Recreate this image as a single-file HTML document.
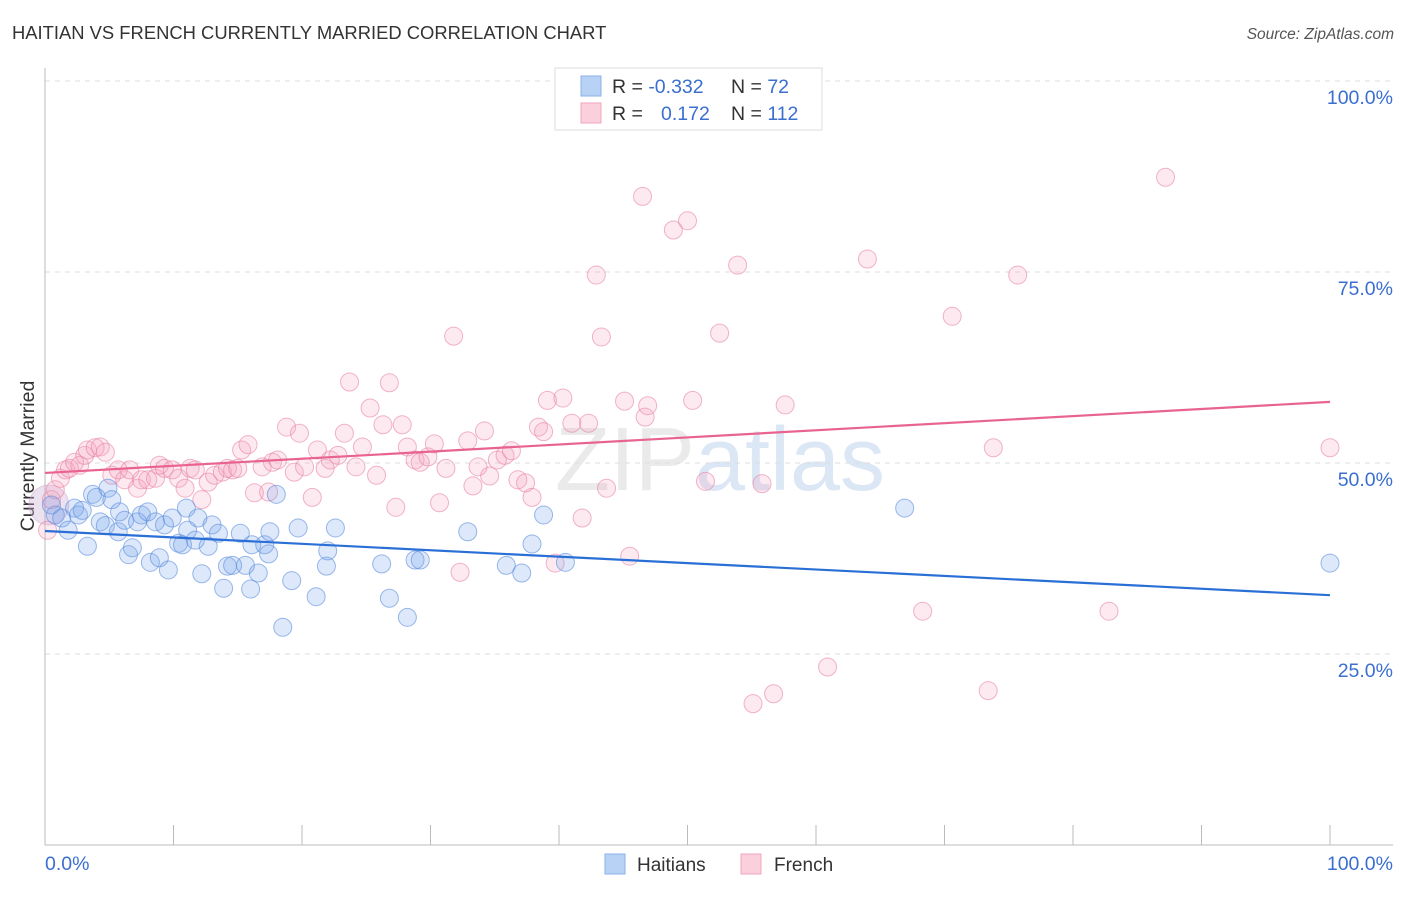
<!DOCTYPE html>
<html><head><meta charset="utf-8"><style>
body{margin:0;background:#fff;font-family:"Liberation Sans",sans-serif}
svg text{font-family:"Liberation Sans",sans-serif}
</style></head><body>
<svg id="chart" width="1406" height="892" viewBox="0 0 1406 892">
<text x="12" y="39" font-size="18.4" fill="#333">HAITIAN VS FRENCH CURRENTLY MARRIED CORRELATION CHART</text>
<text x="1394" y="39" font-size="15.5" fill="#555" font-style="italic" text-anchor="end">Source: ZipAtlas.com</text>
<text x="34" y="456" font-size="19.5" fill="#333" text-anchor="middle" transform="rotate(-90 34 456)">Currently Married</text>
<text x="720" y="490" font-size="90" fill="#ddd" text-anchor="middle" opacity="0.6" font-family="Liberation Serif">ZIP<tspan fill="#c5d8ef" font-family="Liberation Sans">atlas</tspan></text>
<g id="grid"></g>
<g id="axes"></g>
<g id="pts"></g>
<g id="trends"></g>
<g>
<rect x="555" y="68" width="267" height="62" fill="#fff" stroke="#ddd"/>
<rect x="581" y="76" width="20" height="20" fill="#b8d2f5" stroke="#8ab0e8"/>
<rect x="581" y="103" width="20" height="20" fill="#fbd0dc" stroke="#f0a5bc"/>
<text x="612" y="93" font-size="19.5" fill="#333">R = <tspan fill="#3a6fd0">-0.332</tspan></text>
<text x="731" y="93" font-size="19.5" fill="#333">N = <tspan fill="#3a6fd0"> 72</tspan></text>
<text x="612" y="120" font-size="19.5" fill="#333">R = <tspan fill="#3a6fd0" x="661">0.172</tspan></text>
<text x="731" y="120" font-size="19.5" fill="#333">N = <tspan fill="#3a6fd0">112</tspan></text>
</g>
<g>
<rect x="605" y="854" width="20" height="20" fill="#b8d2f5" stroke="#8ab0e8"/>
<text x="637" y="871" font-size="19" fill="#333">Haitians</text>
<rect x="741" y="854" width="20" height="20" fill="#fbd0dc" stroke="#f0a5bc"/>
<text x="774" y="871" font-size="19" fill="#333">French</text>
</g>
</svg>
<script>
const yTicks=[25,50,75,100];
const yTickLabels=["25.0%","50.0%","75.0%","100.0%"];
const xTicks=[10,20,30,40,50,60,70,80,90,100];
const haitiansX=[0.5,0.8,1.3,1.8,2.3,2.6,2.9,3.3,3.7,4.0,4.3,4.7,4.9,5.2,5.7,5.8,6.2,6.5,6.8,7.2,7.5,8.0,8.2,8.6,8.9,9.3,9.6,9.9,10.4,10.7,11.0,11.1,11.7,11.9,12.2,12.7,13.0,13.5,13.9,14.2,14.6,15.2,15.6,16.0,16.1,16.6,17.1,17.4,17.5,18.0,18.5,19.2,19.7,21.1,21.9,22.0,22.6,26.2,26.8,28.2,28.8,29.2,32.9,35.9,37.1,37.9,38.8,40.5,66.9,100];
const haitiansY=[44.5,43.2,42.8,41.2,44.1,43.2,43.8,39.1,45.9,45.5,42.3,41.8,46.7,45.2,41.0,43.6,42.5,38.0,38.9,42.3,43.2,43.6,37.0,42.3,37.6,41.9,36.0,42.8,39.5,39.3,44.1,41.2,39.9,42.8,35.5,39.1,41.9,40.8,33.6,36.5,36.6,40.8,36.6,33.5,39.3,35.6,39.3,38.1,41.0,45.9,28.5,34.6,41.5,32.5,36.5,38.5,41.5,36.8,32.3,29.8,37.3,37.3,41.0,36.6,35.6,39.4,43.2,37.0,44.1,36.9];
const frenchX=[0.2,0.5,0.8,1.2,1.6,1.9,2.3,2.7,3.1,3.3,3.9,4.3,4.7,5.2,5.7,6.2,6.6,7.2,7.5,8.0,8.6,8.9,9.3,9.9,10.4,10.9,11.3,11.7,12.2,12.7,13.2,13.8,14.2,14.6,15.0,15.3,15.8,16.3,16.9,17.4,17.7,18.1,18.8,19.4,19.8,20.2,20.8,21.2,21.8,22.2,22.8,23.3,23.7,24.2,24.7,25.3,25.8,26.3,26.8,27.3,27.8,28.2,28.8,29.2,29.8,30.3,30.7,31.2,31.8,32.3,32.9,33.3,33.7,34.2,34.6,35.2,35.8,36.3,36.8,37.4,37.9,38.4,38.8,39.1,39.7,40.3,41.0,41.8,42.3,42.9,43.3,43.7,45.1,45.5,46.5,46.7,46.9,48.9,50.0,50.4,51.4,52.5,53.9,55.1,55.8,56.7,57.6,60.9,64.0,68.3,70.6,73.4,73.8,75.7,82.8,87.2,100];
const frenchY=[41.2,45.2,46.5,48.0,49.1,49.3,50.1,49.7,51.0,51.7,52.0,52.1,51.4,48.4,49.1,47.8,49.1,46.7,47.8,47.8,48.0,49.7,49.3,49.1,48.0,46.7,49.3,49.1,45.2,47.5,48.4,48.8,49.3,49.1,49.3,51.7,52.4,46.1,49.5,46.2,50.1,50.4,54.7,48.8,53.9,49.5,45.5,51.7,49.3,50.4,51.0,53.9,60.6,49.5,52.1,57.2,48.4,55.0,60.5,44.2,55.0,52.1,50.4,50.1,50.8,52.5,44.8,49.3,66.6,35.7,52.9,47.0,49.5,54.2,48.3,50.4,51.0,51.6,47.8,47.4,45.5,54.7,54.1,58.2,36.9,58.5,55.2,42.8,55.2,74.6,66.5,46.7,58.1,37.8,84.9,56.0,57.5,80.5,81.7,58.2,47.6,67.0,75.9,18.5,47.3,19.8,57.6,23.3,76.7,30.6,69.2,20.2,52.0,74.6,30.6,87.4,52.0];
const haitiansTrend=[41.1,32.7];
const frenchTrend=[48.7,58.0];

const NS="http://www.w3.org/2000/svg";
const X0=45,X1=1330,Y0=845,Y100=81;
const sx=v=>X0+(X1-X0)*v/100;
const sy=v=>Y0-(Y0-Y100)*v/100;
function mk(tag,attrs,parent){const e=document.createElementNS(NS,tag);for(const k in attrs)e.setAttribute(k,attrs[k]);parent.appendChild(e);return e;}
const grid=document.getElementById('grid'),axes=document.getElementById('axes');
yTicks.forEach((t,i)=>{
  const l=mk('line',{x1:X0,x2:1393,y1:sy(t),y2:sy(t),stroke:'#ddd','stroke-dasharray':'5,5'},grid);
  
  
  const tx=mk('text',{x:1393,y:sy(t)+23,'font-size':19.5,fill:'#3a6fd0','text-anchor':'end'},axes);
  tx.textContent=yTickLabels[i];
  
  
});
mk('line',{x1:X0,x2:X0,y1:68,y2:Y0,stroke:'#bbb'},axes);
mk('line',{x1:X0,x2:1393,y1:Y0,y2:Y0,stroke:'#bbb'},axes);
xTicks.forEach(t=>{
  const l=mk('line',{x1:sx(t),x2:sx(t),y1:825,y2:Y0,stroke:'#bbb'},axes);
  
  
});
const xl0=mk('text',{x:45,y:870,'font-size':19.5,fill:'#3a6fd0'},axes);xl0.textContent='0.0%';


const xl1=mk('text',{x:1393,y:870,'font-size':19.5,fill:'#3a6fd0','text-anchor':'end'},axes);xl1.textContent='100.0%';


const pts=document.getElementById('pts');
const big1=mk('circle',{cx:sx(0.3),cy:sy(44.5),r:20,fill:'rgba(200,170,210,0.35)',stroke:'rgba(200,150,200,0.4)'},pts);


function plot(xs,ys,fill,stroke,name){
  xs.forEach((x,i)=>{
    const c=mk('circle',{cx:sx(x),cy:sy(ys[i]),r:9,fill:fill,stroke:stroke,'stroke-width':1},pts);
    
    
  });
}
plot(frenchX,frenchY,'rgba(244,160,188,0.22)','rgba(232,130,165,0.6)','french-point');
plot(haitiansX,haitiansY,'rgba(120,165,235,0.25)','rgba(90,140,220,0.6)','haitians-point');
const tr=document.getElementById('trends');
const t1=mk('line',{x1:sx(0),y1:sy(haitiansTrend[0]),x2:sx(100),y2:sy(haitiansTrend[1]),stroke:'#2a6fd6','stroke-width':2.2},tr);


const t2=mk('line',{x1:sx(0),y1:sy(frenchTrend[0]),x2:sx(100),y2:sy(frenchTrend[1]),stroke:'#e8648f','stroke-width':2.2},tr);


</script>
</body></html>
